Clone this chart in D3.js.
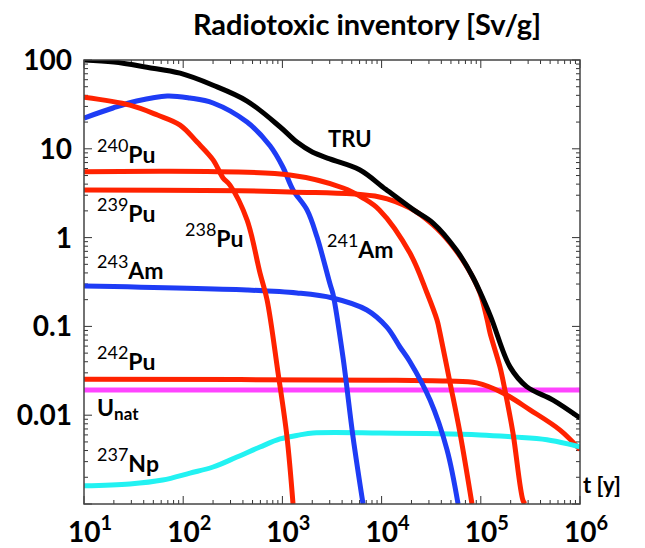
<!DOCTYPE html>
<html>
<head>
<meta charset="utf-8">
<script src="https://cdn.jsdelivr.net/npm/d3@7"></script>
<style>
  body { margin: 0; background: #fff; }
  text { font-family: Lato, "Open Sans", sans-serif; font-weight: bold; fill: #000; }
</style>
</head>
<body>
<div id="chart"></div>
<script>
// series: [t in years, Sv/g]
var tru = [[10,100],[20,95],[43,83],[93,71],[200,52],[440,34.5],[950,17.6],[1400,11.9],[2000,9.2],[3000,7.7],[6000,5.8],[11000,3.5],[21000,2.05],[33000,1.46],[57000,0.72],[83000,0.36],[124000,0.134],[197000,0.035],[290000,0.021],[535000,0.0148],[1000000,0.0093]];
var pu238 = [[10,38],[29,31],[55,24],[93,18.5],[138,11.9],[200,7.5],[252,4.7],[296,3.9],[440,1.58],[594,0.4],[700,0.2],[904,0.03],[1110,0.0058],[1280,0.001]];
var pu239 = [[10,3.43],[1190,3.27],[9500,2.87],[19300,2.15],[33000,1.39],[49000,0.87],[72600,0.467],[98000,0.238],[116000,0.118],[124000,0.084],[156000,0.035],[175000,0.0192],[211000,0.0063],[266000,0.0011],[280000,0.001]];
var pu240 = [[10,5.52],[1190,5.07],[4100,3.62],[6500,2.79],[9500,2.05],[19300,0.67],[28700,0.238],[36200,0.118],[38800,0.084],[49000,0.0231],[61700,0.0063],[81500,0.001]];
var pu242 = [[10,0.0254],[10000,0.0248],[45000,0.0242],[91000,0.0231],[167000,0.0178],[313000,0.0115],[630000,0.0068],[1000000,0.0041]];
var am241 = [[10,22.2],[19.6,28.8],[34,34.5],[69,39.4],[117,37.3],[200,32.8],[440,20],[750,10.8],[1010,6.24],[1280,3.44],[1770,2.05],[2230,1.02],[3020,0.3],[3240,0.23],[4080,0.045],[5150,0.0057],[6500,0.001]];
var am243 = [[10,0.285],[440,0.257],[1400,0.238],[3200,0.209],[7100,0.153],[11300,0.098],[15300,0.0586],[19300,0.04],[30800,0.0148],[45600,0.0041],[59000,0.001]];
var np237 = [[10,0.0016],[29,0.00168],[62,0.00186],[117,0.00223],[200,0.00261],[348,0.00338],[594,0.00438],[946,0.0054],[1500,0.006],[2030,0.0063],[9500,0.0063],[98000,0.006],[210000,0.0057],[465000,0.0053],[1000000,0.0044]];
var unat = [[10,0.0192],[1000000,0.0192]];

var xExps = [1, 2, 3, 4, 5, 6];
var yTicks = [100, 10, 1, 0.1, 0.01];
var yTickLabels = ["100", "10", "1", "0.1", "0.01"];

var width = 645, height = 548;
var margin = { top: 60, right: 65, bottom: 44, left: 84 };
var w = width - margin.left - margin.right;   // 496
var h = height - margin.top - margin.bottom;  // 444

var x = d3.scaleLog().domain([10, 1e6]).range([0, w]);
var y = d3.scaleLog().domain([0.001, 100]).range([h, 0]);

var svg = d3.select("#chart").append("svg")
    .attr("width", width)
    .attr("height", height);

svg.append("text")
    .attr("x", 367)
    .attr("y", 35)
    .attr("text-anchor", "middle")
    .style("font-size", "29px")
    .text("Radiotoxic inventory [Sv/g]");

var g = svg.append("g")
    .attr("transform", "translate(" + margin.left + "," + margin.top + ")");

g.append("clipPath").attr("id", "clip")
  .append("rect").attr("width", w).attr("height", h);

// minor + major ticks, pointing inward on every side
var xMinor = [], yMinor = [];
for (var e = 1; e < 6; e++) for (var k = 2; k < 10; k++) xMinor.push(k * Math.pow(10, e));
for (var e2 = -3; e2 < 2; e2++) for (var k2 = 2; k2 < 10; k2++) yMinor.push(k2 * Math.pow(10, e2));
var xMajor = xExps.map(function(n) { return Math.pow(10, n); });
var yMajor = [0.001].concat(yTicks);

var ticks = g.append("g").attr("stroke", "#333").attr("stroke-width", 1);
function tickX(vals, len) {
  vals.forEach(function(v) {
    ticks.append("line").attr("x1", x(v)).attr("x2", x(v)).attr("y1", h).attr("y2", h - len);
    ticks.append("line").attr("x1", x(v)).attr("x2", x(v)).attr("y1", 0).attr("y2", len);
  });
}
function tickY(vals, len) {
  vals.forEach(function(v) {
    ticks.append("line").attr("y1", y(v)).attr("y2", y(v)).attr("x1", 0).attr("x2", len);
    ticks.append("line").attr("y1", y(v)).attr("y2", y(v)).attr("x1", w).attr("x2", w - len);
  });
}
tickX(xMinor, 4); tickX(xMajor, 8);
tickY(yMinor, 4); tickY(yMajor, 8);

// curves
var line = d3.line()
    .x(function(d) { return x(d[0]); })
    .y(function(d) { return y(d[1]); })
    .curve(d3.curveCatmullRom.alpha(0.5));

var red = "#ff2200", blue = "#1e3cf5";
var series = [
  { d: unat, c: "#ff44ff" },
  { d: pu242, c: red },
  { d: np237, c: "#22f2f2" },
  { d: am243, c: blue },
  { d: am241, c: blue },
  { d: pu238, c: red },
  { d: pu240, c: red },
  { d: pu239, c: red },
  { d: tru, c: "#000" }
];

var curves = g.append("g").attr("clip-path", "url(#clip)");
series.forEach(function(s) {
  curves.append("path")
    .datum(s.d)
    .attr("d", line)
    .attr("fill", "none")
    .attr("stroke", s.c)
    .attr("stroke-width", 5)
    .attr("stroke-linejoin", "round");
});

// frame
g.append("rect")
    .attr("width", w).attr("height", h)
    .attr("fill", "none").attr("stroke", "#444").attr("stroke-width", 1.5);

// axis labels
yTicks.forEach(function(v, i) {
  g.append("text")
    .attr("x", -12)
    .attr("y", y(v) + 10)
    .attr("text-anchor", "end")
    .style("font-size", "28px")
    .text(yTickLabels[i]);
});

xExps.forEach(function(n) {
  var t = g.append("text")
    .attr("x", x(Math.pow(10, n)) + 6)
    .attr("y", h + 38)
    .attr("text-anchor", "middle")
    .style("font-size", "28px");
  t.append("tspan").text("10");
  t.append("tspan").attr("dy", -12).style("font-size", "20px").text(n);
});

// curve names
var names = [
  { sup: "240", main: "Pu", px: 97, py: 163 },
  { sup: "239", main: "Pu", px: 97, py: 222 },
  { sup: "238", main: "Pu", px: 185, py: 247 },
  { sup: "241", main: "Am", px: 327, py: 258 },
  { sup: "243", main: "Am", px: 97, py: 279 },
  { sup: "242", main: "Pu", px: 97, py: 370 },
  { sup: "237", main: "Np", px: 97, py: 472 }
];
names.forEach(function(n) {
  var t = svg.append("text").attr("x", n.px).attr("y", n.py).style("font-size", "23px");
  t.append("tspan").attr("dy", -11).style("font-size", "18px").style("font-weight", "normal").text(n.sup);
  t.append("tspan").attr("dy", 11).text(n.main);
});

var u = svg.append("text").attr("x", 97).attr("y", 416).style("font-size", "23px");
u.append("tspan").text("U");
u.append("tspan").attr("dy", 4).style("font-size", "17px").text("nat");

svg.append("text").attr("x", 328).attr("y", 147).style("font-size", "22px").text("TRU");
svg.append("text").attr("x", 583).attr("y", 493).style("font-size", "22px").text("t [y]");
</script>
</body>
</html>
